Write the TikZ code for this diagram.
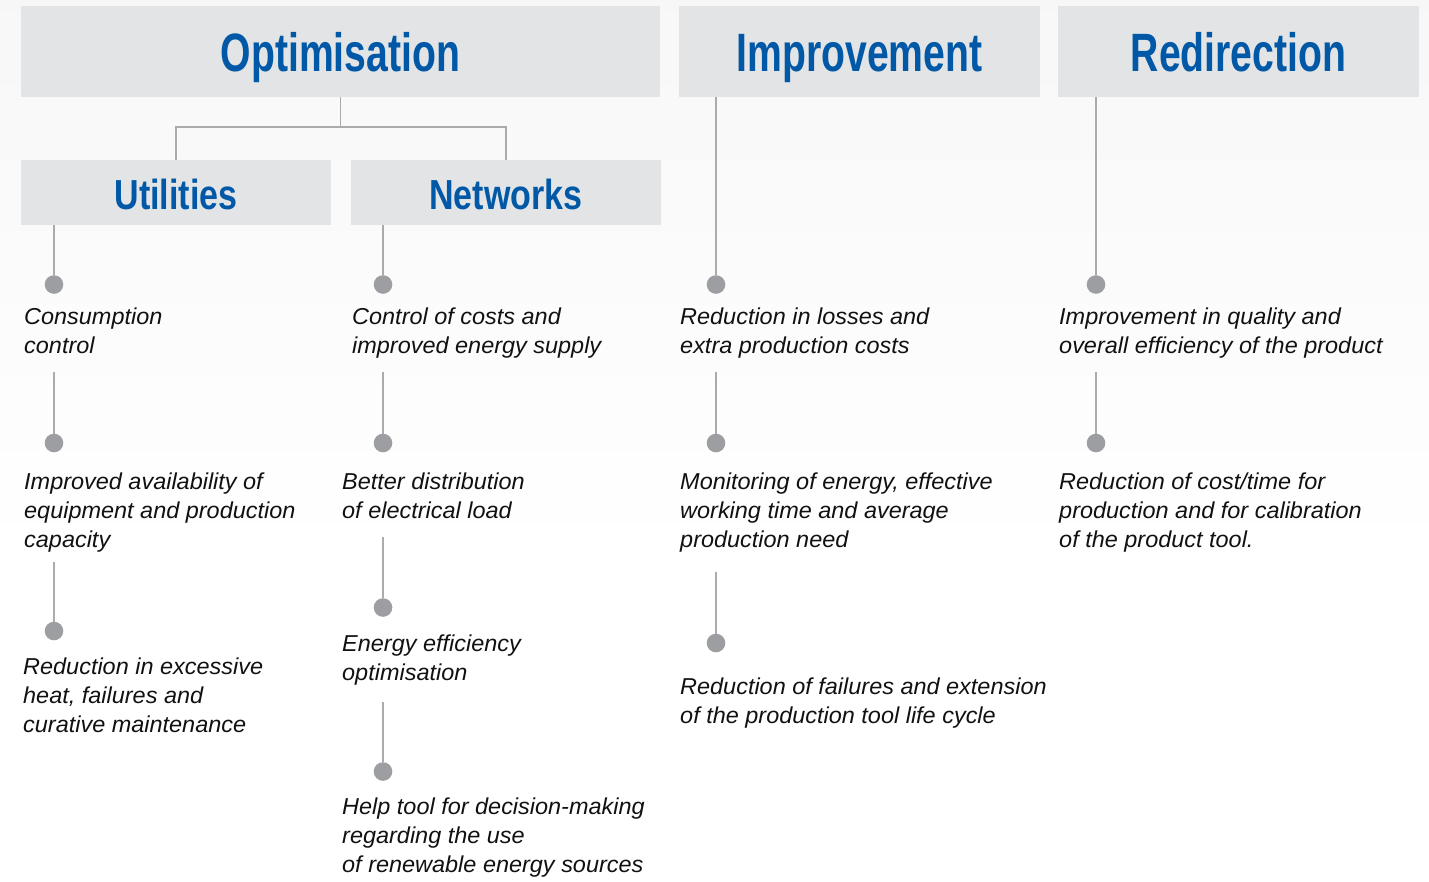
\documentclass[tikz,border=0pt]{standalone}
\usepackage{fontspec}
\newfontfamily\hdfont{Liberation Sans}[FakeStretch=0.725]
\newfontfamily\subfont{Liberation Sans}[FakeStretch=0.81]
\newfontfamily\bdfont{Liberation Sans}[FakeStretch=1.02]
\definecolor{boxgray}{HTML}{E3E4E6}
\definecolor{titleblue}{HTML}{0058A6}
\definecolor{dotgray}{HTML}{9D9EA1}
\definecolor{linegray}{HTML}{ABABAB}
\definecolor{textblack}{HTML}{111111}
\begin{document}
\begin{tikzpicture}[x=1pt,y=-1pt,
  hdbox/.style={fill=boxgray, inner sep=0, text=titleblue, text depth=0pt},
  bigtitle/.style={hdbox, minimum height=91pt, text height=39pt, font=\hdfont\bfseries\fontsize{54}{60}\selectfont},
  subtitle/.style={hdbox, minimum width=310pt, minimum height=65pt, text height=33pt, font=\subfont\bfseries\fontsize{42}{48}\selectfont},
  dotnode/.style={circle, fill=dotgray, minimum size=18.6pt, inner sep=0},
  conn/.style={draw=linegray, line width=1.3pt},
  item/.style={anchor=north west, inner sep=0, align=left, text=textblack,
               font=\bdfont\itshape\fontsize{23}{29.3}\selectfont}]
\useasboundingbox (0,0) rectangle (1429,881);
\fill[white] (0,0) rectangle (1429,881);
\shade[top color=black!3, bottom color=white] (0,0) rectangle (1429,560);

% header boxes
\node[bigtitle, minimum width=639pt] (opt) at (340.5,51.5) {Optimisation};
\node[bigtitle, minimum width=361pt] (imp) at (859.5,51.5) {Improvement};
\node[bigtitle, minimum width=361pt] (red) at (1238.5,51.5) {Redirection};
\node[subtitle] (util) at (176,192.5) {Utilities};
\node[subtitle] (netw) at (506,192.5) {Networks};

\coordinate (split) at (340.5,127);
\draw[conn] (opt.south) -- (split);
\draw[conn] (util.north) |- (split) -| (netw.north);

% ---------- column 1: Utilities ----------
\node[dotnode] (u1) at (54,284.5) {};
\node[item] (ut1) at (24,303.5) {\strut Consumption\\control};
\node[dotnode] (u2) at (54,443) {};
\node[item] (ut2) at (24,468.5) {\strut Improved availability of\\equipment and production\\capacity};
\node[dotnode] (u3) at (54,631) {};
\node[item] (ut3) at (23,653.5) {\strut Reduction in excessive\\heat, failures and\\curative maintenance};
\coordinate (uc2) at (54,372);
\coordinate (uc3) at (54,562);
\draw[conn] (util.south -| u1) -- (u1);
\draw[conn] (uc2) -- (u2);
\draw[conn] (uc3) -- (u3);

% ---------- column 2: Networks ----------
\node[dotnode] (n1) at (383,284.5) {};
\node[item] (nt1) at (352,303.5) {\strut Control of costs and\\improved energy supply};
\node[dotnode] (n2) at (383,443) {};
\node[item] (nt2) at (342,468.5) {\strut Better distribution\\of electrical load};
\node[dotnode] (n3) at (383,607.5) {};
\node[item] (nt3) at (342,630.5) {\strut Energy efficiency\\optimisation};
\node[dotnode] (n4) at (383,771.5) {};
\node[item] (nt4) at (342,793.5) {\strut Help tool for decision-making\\regarding the use\\of renewable energy sources};
\coordinate (nc2) at (383,372);
\coordinate (nc3) at (383,537);
\coordinate (nc4) at (383,702);
\draw[conn] (netw.south -| n1) -- (n1);
\draw[conn] (nc2) -- (n2);
\draw[conn] (nc3) -- (n3);
\draw[conn] (nc4) -- (n4);

% ---------- column 3: Improvement ----------
\node[dotnode] (i1) at (716,284.5) {};
\node[item] (it1) at (680,303.5) {\strut Reduction in losses and\\extra production costs};
\node[dotnode] (i2) at (716,443) {};
\node[item] (it2) at (680,468.5) {\strut Monitoring of energy, effective\\working time and average\\production need};
\node[dotnode] (i3) at (716,643) {};
\node[item] (it3) at (680,673.5) {\strut Reduction of failures and extension\\of the production tool life cycle};
\coordinate (ic2) at (716,372);
\coordinate (ic3) at (716,572);
\draw[conn] (imp.south -| i1) -- (i1);
\draw[conn] (ic2) -- (i2);
\draw[conn] (ic3) -- (i3);

% ---------- column 4: Redirection ----------
\node[dotnode] (r1) at (1096,284.5) {};
\node[item] (rt1) at (1059,303.5) {\strut Improvement in quality and\\overall efficiency of the product};
\node[dotnode] (r2) at (1096,443) {};
\node[item] (rt2) at (1059,468.5) {\strut Reduction of cost/time for\\production and for calibration\\of the product tool.};
\coordinate (rc2) at (1096,372);
\draw[conn] (red.south -| r1) -- (r1);
\draw[conn] (rc2) -- (r2);
\end{tikzpicture}
\end{document}
